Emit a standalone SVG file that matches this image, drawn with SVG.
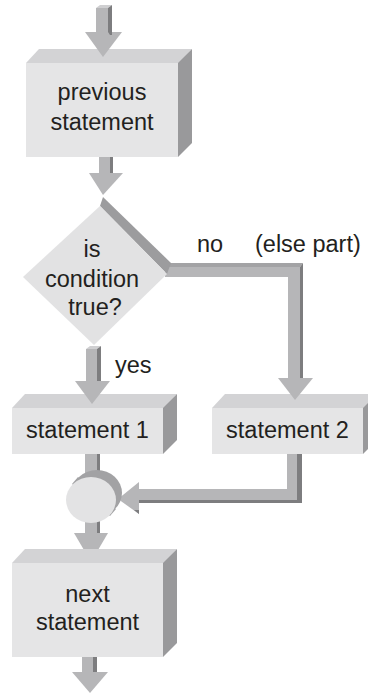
<svg xmlns="http://www.w3.org/2000/svg" width="368" height="693" viewBox="0 0 368 693">
<style>
.front{fill:#e5e5e6}
.top{fill:#d3d3d5}
.side{fill:#99999b}
.al{fill:#b6b6b8}
.ad{fill:#7d7d7f}
.ab{fill:#cfcfd1}
.t{font-family:"Liberation Sans",Arial,sans-serif;font-size:23.5px;fill:#231f20}
.c{text-anchor:middle}
</style>
<rect width="368" height="693" fill="#ffffff"/>
<g id="connectors">
  <polygon class="ab" points="96,8 100,5 112,5 108,8"/>
  <rect class="al" x="96" y="8" width="12" height="25"/>
  <polygon class="ad" points="108,8 112,5 112,33 108,33"/>
  <rect class="al" x="99" y="157" width="11" height="17"/>
  <rect class="ad" x="110" y="157" width="3" height="17"/>
  <polygon class="ab" points="86,349 90,346 101,346 97,349"/>
  <rect class="al" x="86" y="349" width="11" height="33"/>
  <polygon class="ad" points="97,349 101,346 101,382 97,382"/>
  <polygon fill="#a3a3a5" points="167,267 170,263 303,263 300,267"/>
  <rect class="al" x="165" y="267" width="135" height="10"/>
  <rect class="al" x="288" y="267" width="12" height="112"/>
  <polygon class="ad" points="300,267 303,263 303,379 300,379"/>
  <rect class="al" x="85" y="454" width="12" height="30"/>
  <rect class="ad" x="97" y="454" width="3" height="30"/>
  <rect class="al" x="287" y="454" width="10" height="46"/>
  <rect class="ad" x="297" y="454" width="5" height="49"/>
  <rect class="al" x="138" y="489" width="159" height="11"/>
  <rect class="ad" x="138" y="500" width="164" height="3"/>
  <polygon class="al" points="139,482 139,514 118,499"/>
  <polygon class="ad" points="139,510 139,514 134,510"/>
  <rect class="al" x="85" y="518" width="12" height="16"/>
  <rect class="ad" x="97" y="518" width="3" height="16"/>
  <rect class="al" x="82" y="657" width="11" height="16"/>
  <rect class="ad" x="93" y="657" width="4" height="16"/>
  <polygon class="al" points="72,672 108,672 90,693"/>
</g>
<g id="previous">
  <polygon class="top" points="26,63 39,49 192,49 179,63"/>
  <polygon class="side" points="178,63 192,49 192,143 178,157"/>
  <rect class="front" x="26" y="63" width="152" height="94"/>
  <text class="t c" x="102" y="100">previous</text>
  <text class="t c" x="102" y="130">statement</text>
</g>
<g id="decision">
  <polygon fill="#9c9c9e" points="100,206 103,197 171,263 167,274"/>
  <polygon fill="#e2e2e3" points="100,206 167,274 94,345 23,277"/>
  <text class="t c" x="92" y="257">is</text>
  <text class="t c" x="92" y="287">condition</text>
  <text class="t c" x="95" y="315">true?</text>
</g>
<g id="labels">
  <text class="t" x="197" y="252">no</text>
  <text class="t" x="255" y="252">(else part)</text>
  <text class="t" x="115" y="373">yes</text>
</g>
<g id="statement1">
  <polygon class="top" points="12,408 25,394 177,394 164,408"/>
  <polygon class="side" points="163,408 177,394 177,440 163,454"/>
  <rect class="front" x="12" y="408" width="151" height="46"/>
  <text class="t c" x="87.5" y="438">statement 1</text>
</g>
<g id="statement2">
  <polygon class="top" points="212,408 225,394 377,394 364,408"/>
  <polygon class="side" points="363,408 377,394 377,440 363,454"/>
  <rect class="front" x="212" y="408" width="151" height="46"/>
  <text class="t c" x="287.5" y="438">statement 2</text>
</g>
<g id="join">
  <ellipse cx="97" cy="493" rx="25" ry="23" fill="#a2a2a4"/>
  <polygon fill="#a2a2a4" points="110,516 116,509 78,477 72,484"/>
  <ellipse cx="91" cy="500" rx="25" ry="23" fill="#e3e3e4"/>
</g>
<g id="arrowheads">
  <polygon class="al" points="85,32 122,32 103,57"/>
  <polygon class="ad" points="108,32 112,32 112,35 110,35"/>
  <polygon class="al" points="89,173 123,173 103,195"/>
  <polygon class="al" points="75,381 110,381 92,404"/>
  <polygon class="al" points="278,378 313,378 295,400"/>
  <polygon class="al" points="74,533 108,533 91,562"/>
</g>
<g id="next">
  <polygon class="top" points="12,563 25,549 177,549 164,563"/>
  <polygon class="side" points="163,563 177,549 177,643 163,657"/>
  <rect class="front" x="12" y="563" width="151" height="94"/>
  <text class="t c" x="87.5" y="602">next</text>
  <text class="t c" x="87.5" y="630">statement</text>
</g>
</svg>
